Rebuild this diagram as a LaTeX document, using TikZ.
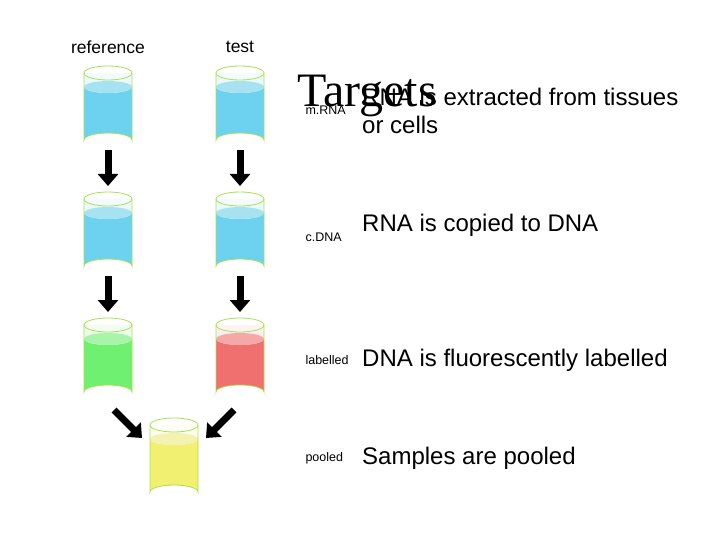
\documentclass[tikz,border=0pt]{standalone}
\usepackage{fontspec}
\setmainfont{Liberation Sans}
\newfontfamily\tnr{Liberation Serif}
\begin{document}
\begin{tikzpicture}[x=1pt,y=-1pt,
 arr/.style={line width=7pt,-{Triangle[length=12pt,width=20pt]}},
 lab/.style={anchor=west,font=\fontsize{12.5}{15}\selectfont},
 txt/.style={anchor=west,font=\fontsize{24}{28}\selectfont,align=left}]
\usetikzlibrary{arrows.meta}
\useasboundingbox (0,0) rectangle (720,540);
\newcommand\beaker[4]{% x, top y, liquid, light
 \fill[#4!60!white,opacity=0.35] (#1-24,#2+7) rectangle (#1+24,#2+20);
 \fill[#3] (#1-24,#2+21) -- (#1-24,#2+74) arc[start angle=180,end angle=360,x radius=24,y radius=7] -- (#1+24,#2+21) arc[start angle=0,end angle=180,x radius=24,y radius=6] -- cycle;
 \fill[#4] (#1,#2+21) ellipse[x radius=24,y radius=6];
 \draw[green!40!yellow!70!gray!80,line width=0.8pt] (#1-24,#2+7) -- (#1-24,#2+74) arc[start angle=180,end angle=360,x radius=24,y radius=7] -- (#1+24,#2+7);
 \draw[green!40!yellow!70!gray!80,line width=0.8pt,fill=white,fill opacity=0.3] (#1,#2+7) ellipse[x radius=24,y radius=7];
}
\definecolor{bl}{HTML}{6CD2F0}\definecolor{blt}{HTML}{A6E2F2}
\definecolor{gr}{HTML}{70F070}\definecolor{grt}{HTML}{A8F4A8}
\definecolor{rd}{HTML}{F07070}\definecolor{rdt}{HTML}{F4A8A8}
\definecolor{ye}{HTML}{F2F070}\definecolor{yet}{HTML}{F4F2B0}
\beaker{108}{66}{bl}{blt}
\beaker{240}{66}{bl}{blt}
\beaker{108}{192}{bl}{blt}
\beaker{240}{192}{bl}{blt}
\beaker{108}{318}{gr}{grt}
\beaker{240}{318}{rd}{rdt}
\beaker{174}{418}{ye}{yet}
\coordinate (a1) at (108,150);\coordinate (a2) at (108,186);
\coordinate (b1) at (240,150);\coordinate (b2) at (240,186);
\coordinate (c1) at (108,276);\coordinate (c2) at (108,312);
\coordinate (d1) at (240,276);\coordinate (d2) at (240,312);
\coordinate (e1) at (114,410);\coordinate (e2) at (142,438);
\coordinate (f1) at (234,410);\coordinate (f2) at (206,438);
\foreach \s/\e in {a1/a2,b1/b2,c1/c2,d1/d2,e1/e2,f1/f2} \draw[arr] (\s) -- (\e);
\node[font=\fontsize{17.5}{20}\selectfont] (r) at (108,47) {reference};
\node[font=\fontsize{17.5}{20}\selectfont] (t) at (240,47) {test};
\node[anchor=west,font=\tnr\fontsize{48}{52}\selectfont,inner sep=0pt] (tg) at (297,96) {Targets};
\node[lab] (l1) at (302,110) {m.RNA};
\node[txt,inner sep=0pt] (x1) at (362,111) {RNA is extracted from tissues\\or cells};
\node[lab] (l2) at (302,237) {c.DNA};
\node[txt,inner sep=0pt] (x2) at (362,225) {RNA is copied to DNA};
\node[lab] (l3) at (302,360) {labelled};
\node[txt,inner sep=0pt] (x3) at (362,360) {DNA is fluorescently labelled};
\node[lab] (l4) at (302,458) {pooled};
\node[txt,inner sep=0pt] (x4) at (362,458) {Samples are pooled};
\end{tikzpicture}
\end{document}
